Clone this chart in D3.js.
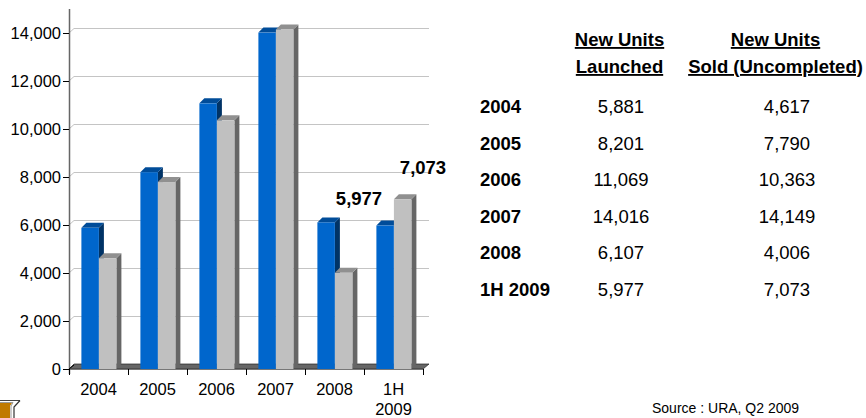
<!DOCTYPE html>
<html><head><meta charset="utf-8">
<script src="https://cdnjs.cloudflare.com/ajax/libs/d3/7.8.5/d3.min.js"></script>
<style>html,body{margin:0;padding:0;background:#fff}svg{display:block}text{font-family:"Liberation Sans",Arial,sans-serif;fill:#000}</style>
</head><body><svg id="c" width="866" height="418"></svg>
<script>
const categories=["2004","2005","2006","2007","2008","1H 2009"];
const launched=[5881,8201,11069,14016,6107,5977];
const sold=[4617,7790,10363,14149,4006,7073];
const yTicks=[0,2000,4000,6000,8000,10000,12000,14000];
const tableRows=["2004","2005","2006","2007","2008","1H 2009"];
const fmt=d3.format(",");
const svg=d3.select("#c");
const x=d3.scaleBand().domain(categories).range([69,423]);
const y=d3.scaleLinear().domain([0,14000]).range([369,33]);
const dx=5,dy=5;
const inner=d3.scaleBand().domain(["a","b"]).range([12.4,47.4]);
// gridlines
svg.append("g").selectAll("line").data(yTicks.slice(1)).join("line")
 .attr("x1",69+dx).attr("x2",429).attr("y1",d=>y(d)-dy+.5).attr("y2",d=>y(d)-dy+.5)
 .attr("stroke","#c4c4c4").attr("stroke-width",1.2);
svg.append("g").selectAll("line").data(yTicks.slice(1)).join("line")
 .attr("x1",69).attr("x2",69+dx).attr("y1",d=>y(d)).attr("y2",d=>y(d)-dy+.5)
 .attr("stroke","#c4c4c4");
// floor
svg.append("polygon").attr("points",[[69,369],[69+dx,369-dy],[429,369-dy],[423,369]].join(" ")).attr("fill","#666").attr("stroke","#222").attr("stroke-width",.7);
// bars
function bars(vals,key,front,top,side){
 const g=svg.append("g");
 categories.forEach((c,i)=>{
  const v=vals[i],x0=x(c)+inner(key),w=inner.bandwidth(),yt=y(v);
  g.append("polygon").attr("points",[[x0+w,yt],[x0+w+dx,yt-dy],[x0+w+dx,369-dy],[x0+w,369]].join(" ")).attr("fill",side);
  g.append("polygon").attr("points",[[x0,yt],[x0+dx,yt-dy],[x0+w+dx,yt-dy],[x0+w,yt]].join(" ")).attr("fill",top);
  g.append("rect").attr("x",x0).attr("y",yt).attr("width",w).attr("height",369-yt).attr("fill",front);
 });
}
bars(launched,"a","#0066cc","#004c99","#003366");
bars(sold,"b","#c0c0c0","#909090","#666666");
// axes
svg.append("line").attr("x1",69.5).attr("x2",69.5).attr("y1",9).attr("y2",374).attr("stroke","#666").attr("stroke-width",1.5);
svg.append("line").attr("x1",69).attr("x2",423).attr("y1",369.5).attr("y2",369.5).attr("stroke","#777");
svg.append("g").selectAll("line").data(yTicks).join("line")
 .attr("x1",63).attr("x2",69).attr("y1",d=>y(d)+.5).attr("y2",d=>y(d)+.5).attr("stroke","#000");
svg.append("line").attr("x1",69).attr("x2",74).attr("y1",369).attr("y2",365).attr("stroke","#000");
svg.append("g").selectAll("line").data([...categories.map(c=>x(c)),423]).join("line")
 .attr("x1",d=>d+.5).attr("x2",d=>d+.5).attr("y1",369).attr("y2",375).attr("stroke","#000");
svg.append("g").selectAll("text").data(yTicks).join("text")
 .attr("x",61).attr("y",d=>y(d)+5.5).attr("text-anchor","end").attr("font-size",16.5).text(fmt);
categories.forEach(c=>{
 const t=svg.append("text").attr("text-anchor","middle").attr("font-size",16.5);
 const cx=x(c)+x.bandwidth()/2;
 if(c.includes(" ")){
  c.split(" ").forEach((p,i)=>t.append("tspan").attr("x",cx).attr("y",395+i*19.5).text(p));
 } else t.attr("x",cx).attr("y",395).text(c);
});
// data labels
const last=categories.length-1;
svg.append("text").attr("x",359).attr("y",204.5).attr("text-anchor","middle").attr("font-size",18.5).attr("font-weight","bold").text(fmt(launched[last]));
svg.append("text").attr("x",423).attr("y",173.5).attr("text-anchor","middle").attr("font-size",18.5).attr("font-weight","bold").text(fmt(sold[last]));
// table
const head=[[619.5,"New Units","Launched"],[775.5,"New Units","Sold (Uncompleted)"]];
head.forEach(h=>{
 [h[1],h[2]].forEach((s,i)=>svg.append("text").attr("x",h[0]).attr("y",46+i*27).attr("text-anchor","middle").attr("font-size",18.5).attr("font-weight","bold").attr("text-decoration","underline").text(s));
});
const rowY=d3.scalePoint().domain(tableRows).range([113,296]);
tableRows.forEach((r,i)=>{
 svg.append("text").attr("x",480).attr("y",rowY(r)).attr("font-size",18.5).attr("font-weight","bold").text(r);
 svg.append("text").attr("x",621).attr("y",rowY(r)).attr("text-anchor","middle").attr("font-size",18.5).text(fmt(launched[i]));
 svg.append("text").attr("x",787).attr("y",rowY(r)).attr("text-anchor","middle").attr("font-size",18.5).text(fmt(sold[i]));
});
svg.append("text").attr("x",652).attr("y",413).attr("font-size",14).text("Source : URA, Q2 2009");
// corner icon
svg.append("polygon").attr("points","0,403 12,403 10,406 10,418 0,418").attr("fill","#c07a00");
svg.append("polyline").attr("points","0,400.5 20,400.5").attr("fill","none").attr("stroke","#444").attr("stroke-width",1);
svg.append("polyline").attr("points","0,402.5 13,402.5 11,406 11,418").attr("fill","none").attr("stroke","#999").attr("stroke-width",1);
svg.append("polyline").attr("points","20,400.5 14,407 14,418").attr("fill","none").attr("stroke","#333").attr("stroke-width",1.2);
</script></body></html>
